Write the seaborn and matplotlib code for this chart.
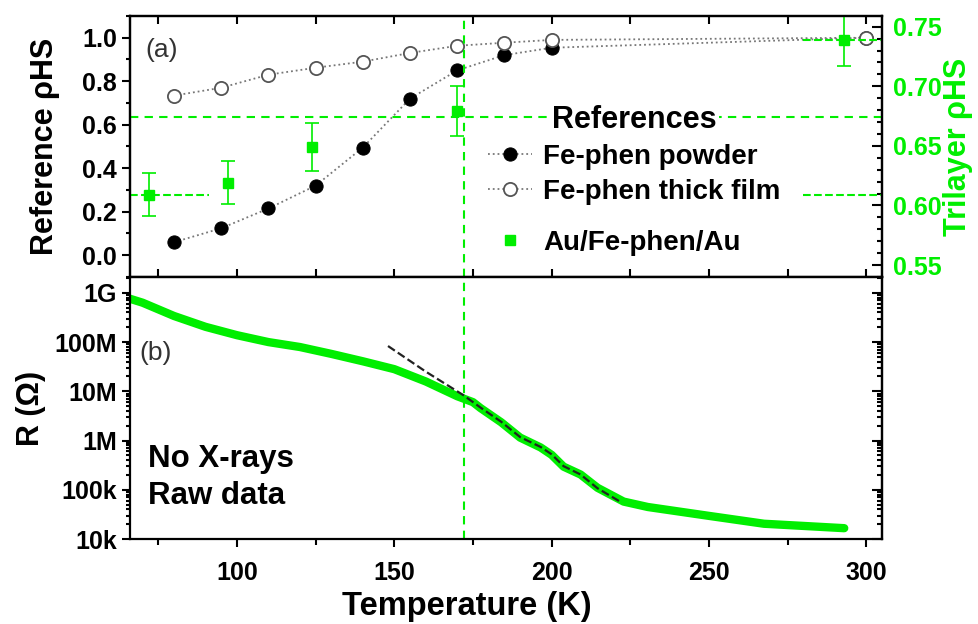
import numpy as np
import pandas as pd
import matplotlib
matplotlib.use('Agg')
import matplotlib.pyplot as plt
import seaborn as sns
from matplotlib.ticker import MultipleLocator, FixedLocator, FixedFormatter, LogLocator, NullFormatter

# datos
temp_ref = [80, 95, 110, 125, 140, 155, 170, 185, 200, 300]
powder = [0.06, 0.124, 0.215, 0.32, 0.495, 0.72, 0.85, 0.92, 0.954, 1.0]
thick_film = [0.734, 0.77, 0.83, 0.862, 0.89, 0.93, 0.963, 0.977, 0.99, 1.0]

temp_tri = [72, 97, 124, 170, 293]
trilayer = [0.609, 0.619, 0.649, 0.679, 0.739]
trilayer_err = [0.018, 0.018, 0.020, 0.021, 0.022]

temp_r = [66, 70, 80, 90, 100, 110, 120, 130, 140, 150, 160, 170, 175, 177.4, 184,
          190, 196.5, 200, 203.8, 209.2, 214.6, 222.9, 230.6, 250, 267.5, 293]
log_r = [8.88, 8.80, 8.53, 8.31, 8.14, 8.00, 7.90, 7.76, 7.61, 7.45, 7.20, 6.90, 6.78,
         6.66, 6.37, 6.06, 5.86, 5.71, 5.47, 5.31, 5.04, 4.76, 4.65, 4.47, 4.31, 4.22]

temp_fit = [148, 160, 172, 177.4, 184, 190, 196.5, 200, 203.8, 209.2, 214.6, 222]
log_fit = [7.92, 7.40, 6.92, 6.67, 6.38, 6.07, 5.87, 5.72, 5.48, 5.31, 5.03, 4.75]

t_vline = 172
level_mid = 0.674
level_low = 0.609
level_high = 0.739

r_ticks = [1e4, 1e5, 1e6, 1e7, 1e8, 1e9]
r_labels = ['10k', '100k', '1M', '10M', '100M', '1G']

df_ref = pd.DataFrame({'T': temp_ref, 'powder': powder, 'film': thick_film})
df_r = pd.DataFrame({'T': temp_r, 'R': 10 ** np.array(log_r)})
df_fit = pd.DataFrame({'T': temp_fit, 'R': 10 ** np.array(log_fit)})

sns.set_theme(style='ticks')
plt.rcParams['font.family'] = ['Liberation Sans', 'DejaVu Sans']
plt.rcParams['font.weight'] = 'bold'
plt.rcParams['axes.linewidth'] = 1.6
for k in ['text.color', 'axes.labelcolor', 'xtick.color', 'ytick.color', 'axes.edgecolor']:
    plt.rcParams[k] = 'black'

green = '#00ee00'
fig = plt.figure(figsize=(9.79, 6.24), dpi=100)
ax1 = fig.add_axes([0.1328, 0.5561, 0.7681, 0.4183])
ax3 = fig.add_axes([0.1328, 0.1362, 0.7681, 0.4199], sharex=ax1)
ax2 = ax1.twinx()

# panel (a)
sns.lineplot(data=df_ref, x='T', y='powder', ax=ax1, color='#777777', linestyle=':', lw=1.3,
             marker='o', markersize=9.5, markerfacecolor='black', markeredgecolor='black',
             label='Fe-phen powder', legend=False)
sns.lineplot(data=df_ref, x='T', y='film', ax=ax1, color='#777777', linestyle=':', lw=1.3,
             marker='o', markersize=9.5, markerfacecolor='white', markeredgecolor='#555555',
             markeredgewidth=1.3, label='Fe-phen thick film', legend=False)
ax1.axvline(t_vline, color=green, ls='--', lw=1.5, dashes=(4, 3))
ax1.set_ylim(-0.1, 1.1)
ax1.yaxis.set_major_locator(MultipleLocator(0.2))
ax1.yaxis.set_minor_locator(MultipleLocator(0.1))
ax1.set_ylabel('Reference ρHS', fontsize=22, fontweight='bold', labelpad=16)
ax1.set_xlabel('')
ax1.tick_params(axis='y', which='both', direction='out', labelsize=18, width=1.5)
ax1.tick_params(axis='y', which='major', length=6)
ax1.tick_params(axis='y', which='minor', length=3)
ax1.tick_params(axis='x', which='both', direction='in', top=True, bottom=True,
                labelbottom=False, length=6, width=1.5)
ax1.text(0.02, 0.87, '(a)', transform=ax1.transAxes, fontsize=19, fontweight='normal',
         color='#333333', va='center')

eb = ax2.errorbar(temp_tri, trilayer, yerr=trilayer_err, fmt='s', color=green, ms=7,
                  ecolor=green, elinewidth=1.2, capsize=5, capthick=1.2)
ax2.axhline(level_mid, color=green, ls='--', lw=1.5, dashes=(4, 3))
ax2.hlines(level_low, 66, 91, color=green, ls='--', lw=1.5)
ax2.hlines(level_low, 280, 305, color=green, ls='--', lw=1.5)
ax2.hlines(level_high, 280, 305, color=green, ls='--', lw=1.5)
ax2.set_ylim(0.54, 0.759)
ax2.yaxis.set_major_locator(MultipleLocator(0.05))
ax2.yaxis.set_minor_locator(MultipleLocator(0.01))
ax2.tick_params(axis='y', which='both', direction='in', labelsize=18, width=1.5,
                labelcolor=green, pad=8)
ax2.tick_params(axis='y', which='major', length=7)
ax2.tick_params(axis='y', which='minor', length=3.5)
ax2.set_ylabel('Trilayer ρHS', fontsize=22, fontweight='bold', color=green, labelpad=1)
for lab in ax2.get_yticklabels():
    lab.set_fontweight('bold')

h1, l1 = ax1.get_legend_handles_labels()
leg1 = ax2.legend(h1, l1, title='References', loc='upper left', bbox_to_anchor=(0.45, 0.735),
                  frameon=False, fontsize=20, handlelength=1.6, handletextpad=0.4,
                  labelspacing=0.33, title_fontproperties={'weight': 'bold', 'size': 22},
                  borderpad=0.2)
leg1.get_title().set_bbox(dict(facecolor='white', edgecolor='none', pad=2))
ax2.add_artist(leg1)
ax2.legend([eb[0]], ['Au/Fe-phen/Au'], loc='upper left', bbox_to_anchor=(0.45, 0.255),
           frameon=False, fontsize=20, handlelength=1.6, handletextpad=0.4, borderpad=0.2)

# panel (b)
sns.lineplot(data=df_r, x='T', y='R', ax=ax3, color=green, lw=6, solid_capstyle='round')
sns.lineplot(data=df_fit, x='T', y='R', ax=ax3, color='#222222', lw=1.6, linestyle='--')
ax3.axvline(t_vline, color=green, ls='--', lw=1.5, dashes=(4, 3))
ax3.set_yscale('log')
ax3.set_ylim(1e4, 2.1e9)
ax3.yaxis.set_major_locator(FixedLocator(r_ticks))
ax3.yaxis.set_major_formatter(FixedFormatter(r_labels))
ax3.yaxis.set_minor_locator(LogLocator(base=10, subs=np.arange(2, 10), numticks=20))
ax3.yaxis.set_minor_formatter(NullFormatter())
ax3.tick_params(axis='y', which='both', direction='out', right=False, labelsize=18, width=1.5)
ax3.tick_params(axis='y', which='major', length=6)
ax3.tick_params(axis='y', which='minor', length=3)
ax3r = ax3.secondary_yaxis('right')
ax3r.tick_params(axis='y', which='both', direction='in', labelright=False, width=1.5)
ax3r.tick_params(axis='y', which='major', length=7)
ax3r.tick_params(axis='y', which='minor', length=3.5)
ax3r.yaxis.set_major_locator(FixedLocator(r_ticks))
ax3r.yaxis.set_minor_locator(LogLocator(base=10, subs=np.arange(2, 10), numticks=20))

ax3.set_xlim(66, 305)
ax3.xaxis.set_major_locator(MultipleLocator(50))
ax3.xaxis.set_minor_locator(MultipleLocator(25))
ax3.tick_params(axis='x', which='both', direction='out', labelsize=18, width=1.5, pad=10)
ax3.tick_params(axis='x', which='major', length=6)
ax3.tick_params(axis='x', which='minor', length=4)
ax3.set_xlabel('Temperature (K)', fontsize=23.5, fontweight='bold', labelpad=5)
ax3.xaxis.set_label_coords(0.448, -0.2)
ax3.set_ylabel('R (Ω)', fontsize=22, fontweight='bold', labelpad=6)
ax3.text(0.012, 0.71, '(b)', transform=ax3.transAxes, fontsize=19, fontweight='normal',
         color='#333333', va='center')
ax3.text(0.024, 0.235, 'No X-rays\nRaw data', transform=ax3.transAxes, fontsize=22.5,
         fontweight='bold', va='center', linespacing=1.3)

for ax in (ax1, ax3):
    for lab in ax.get_xticklabels() + ax.get_yticklabels():
        lab.set_fontweight('bold')

fig.savefig('out.png', dpi=100)
